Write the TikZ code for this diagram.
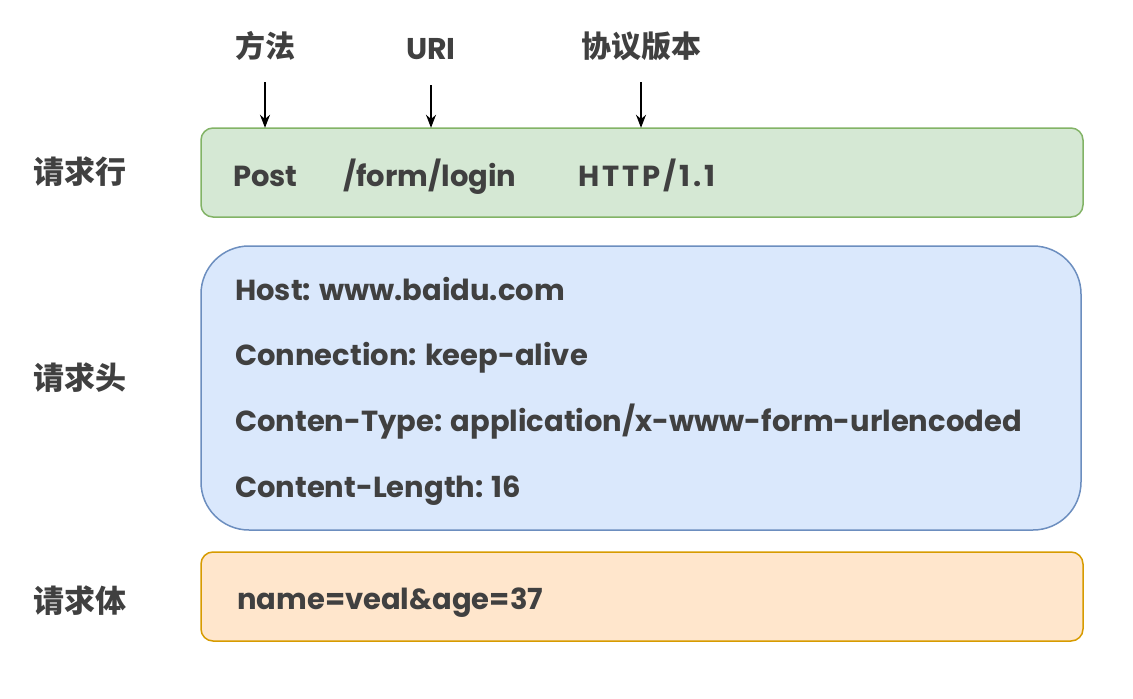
\documentclass[tikz,border=0pt]{standalone}
\usepackage{fontspec}
\setmainfont{Poppins}
\newfontfamily\cjk{Noto Sans CJK SC}
\usetikzlibrary{arrows.meta}
\definecolor{txt}{HTML}{404040}
\definecolor{gfill}{HTML}{D5E8D4}
\definecolor{gline}{HTML}{82B366}
\definecolor{bfill}{HTML}{DAE8FC}
\definecolor{bline}{HTML}{6C8EBF}
\definecolor{ofill}{HTML}{FFE6CC}
\definecolor{oline}{HTML}{D79B00}
\tikzset{
  sidelabel/.style={font=\cjk\bfseries\fontsize{31}{36}\selectfont, text=txt, inner sep=0pt},
  toplabel/.style={font=\cjk\bfseries\fontsize{30}{34}\selectfont, text=txt, inner sep=0pt},
  urilabel/.style={font=\bfseries\fontsize{30}{34}\selectfont, text=txt, inner sep=0pt},
  boxtext/.style={font=\bfseries\fontsize{29}{34}\selectfont, text=txt, inner sep=0pt, anchor=base west},
  arr/.style={draw=black, line width=1.5pt, -{Stealth[length=13pt,width=10pt]}},
}
\begin{document}
\begin{tikzpicture}[x=1pt,y=-1pt]
\useasboundingbox (0,0) rectangle (1133,699);
% boxes
\draw[fill=gfill, draw=gline, line width=1.5pt, rounded corners=12pt] (201,128) rectangle (1083,217);
\node[inner sep=0pt, minimum width=882pt, minimum height=89pt] (green) at (642,172.5) {};
\draw[fill=bfill, draw=bline, line width=1.5pt, rounded corners=48pt] (201,246) rectangle (1081,530);
\draw[fill=ofill, draw=oline, line width=1.5pt, rounded corners=12pt] (201,552) rectangle (1083,641);
% side labels
\node[sidelabel] (l1) at (80,172) {请求行};
\node[sidelabel] (l2) at (80,378) {请求头};
\node[sidelabel] (l3) at (80,601) {请求体};
% top labels
\node[toplabel] (t1) at (265,46) {方法};
\node[urilabel] (t2) at (431,49) {URI};
\node[toplabel] (t3) at (641,46) {协议版本};
\coordinate (s1) at (265,82);
\coordinate (s2) at (431,85);
\coordinate (s3) at (641,82);
\draw[arr] (s1) -- (s1 |- green.north);
\draw[arr] (s2) -- (s2 |- green.north);
\draw[arr] (s3) -- (s3 |- green.north);
% green texts
\node[boxtext] (p1) at (233,186) {Post};
\node[boxtext] (p2) at (343,186) {/form/login};
\node[boxtext] (p3) at (578,186) {\addfontfeature{LetterSpace=10}HTTP/1.1};
% blue texts
\node[boxtext] (h1) at (235,300) {Host: www.baidu.com};
\node[boxtext] (h2) at (235,365) {Connection: keep-alive};
\node[boxtext] (h3) at (235,431) {Conten-Type: application/x-www-form-urlencoded};
\node[boxtext] (h4) at (235,497) {Content-Length: 16};
% body
\node[boxtext] (b1) at (237,609) {name=veal\&age=37};
\end{tikzpicture}
\end{document}
